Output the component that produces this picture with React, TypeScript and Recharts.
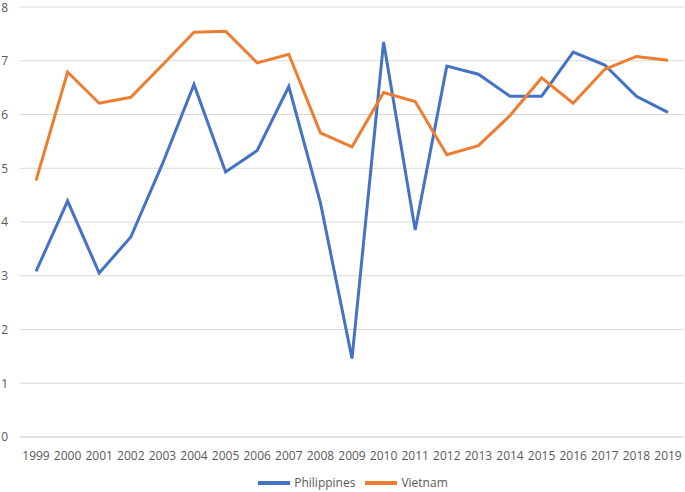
import { CartesianGrid, Legend, Line, LineChart, XAxis, YAxis } from "recharts";

const years = [
  "1999", "2000", "2001", "2002", "2003", "2004", "2005", "2006", "2007", "2008", "2009",
  "2010", "2011", "2012", "2013", "2014", "2015", "2016", "2017", "2018", "2019",
];
const philippines = [
  3.08, 4.39, 3.05, 3.72, 5.08, 6.56, 4.93, 5.33, 6.52, 4.36, 1.46,
  7.35, 3.85, 6.9, 6.75, 6.34, 6.34, 7.16, 6.92, 6.34, 6.04,
];
const vietnam = [
  4.77, 6.79, 6.21, 6.32, 6.92, 7.53, 7.55, 6.96, 7.12, 5.66, 5.4,
  6.41, 6.24, 5.25, 5.42, 5.98, 6.68, 6.21, 6.84, 7.08, 7.01,
];
const yTicks = [0, 1, 2, 3, 4, 5, 6, 7, 8];

const data = years.map((year, i) => ({ year, Philippines: philippines[i], Vietnam: vietnam[i] }));

const font = "'Open Sans', 'Noto Sans', sans-serif";
const grey = "#595959";

export default function App() {
  return (
    <div style={{ position: "absolute", left: 0, top: 0, fontFamily: font }}>
      <LineChart width={685} height={492} data={data} margin={{ top: 7, right: 1, bottom: 0, left: 0 }}>
        <CartesianGrid vertical={false} stroke="#d9d9d9" strokeWidth={1} />
        <XAxis
          dataKey="year"
          tickLine={false}
          axisLine={{ stroke: "#d9d9d9" }}
          tick={{ fill: grey, fontSize: 12, fontFamily: font }}
          tickMargin={8}
          height={30}
          interval={0}
          padding={{ left: 16, right: 16 }}
        />
        <YAxis
          domain={[0, 8]}
          ticks={yTicks}
          width={20}
          axisLine={false}
          tickLine={false}
          tick={{ fill: grey, fontSize: 12, fontFamily: font }}
          tickMargin={6}
        />
        <Legend
          verticalAlign="bottom"
          iconType="plainline"
          iconSize={32}
          height={25}
          wrapperStyle={{ paddingLeft: 16 }}
          formatter={(value) => <span style={{ color: grey, fontSize: 12 }}>{value}</span>}
        />
        <Line dataKey="Philippines" stroke="#4472c4" strokeWidth={3} dot={false} isAnimationActive={false} />
        <Line dataKey="Vietnam" stroke="#ed7d31" strokeWidth={3} dot={false} isAnimationActive={false} />
      </LineChart>
    </div>
  );
}
